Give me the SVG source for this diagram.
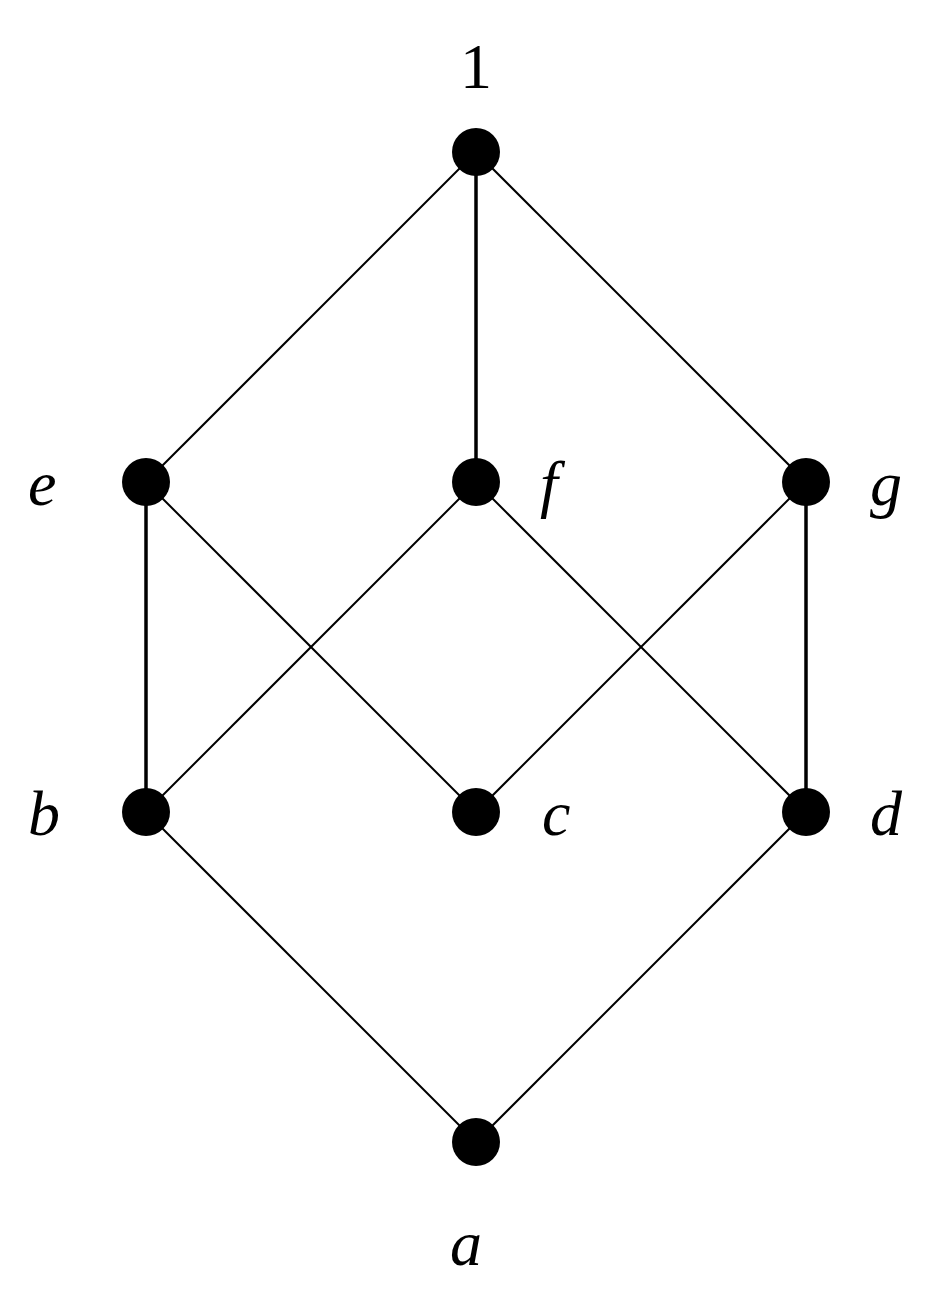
<svg xmlns="http://www.w3.org/2000/svg" width="952" height="1292" viewBox="0 0 952 1292">
<style>
.e{stroke:#000;stroke-width:2;fill:none}
.v{stroke:#000;stroke-width:3.5;fill:none}
.n{fill:#000}
.t{font-family:"Liberation Serif",serif;font-style:italic;font-size:64px;fill:#000}
</style>
<rect width="952" height="1292" fill="#fff"/>
<g id="connectors">
<line class="e" x1="476" y1="152" x2="146" y2="482"/>
<line class="v" x1="476" y1="152" x2="476" y2="482"/>
<line class="e" x1="476" y1="152" x2="806" y2="482"/>
<line class="v" x1="146" y1="482" x2="146" y2="812"/>
<line class="e" x1="146" y1="482" x2="476" y2="812"/>
<line class="e" x1="476" y1="482" x2="146" y2="812"/>
<line class="e" x1="476" y1="482" x2="806" y2="812"/>
<line class="e" x1="806" y1="482" x2="476" y2="812"/>
<line class="v" x1="806" y1="482" x2="806" y2="812"/>
<line class="e" x1="146" y1="812" x2="476" y2="1142"/>
<line class="e" x1="806" y1="812" x2="476" y2="1142"/>
</g>
<g id="n1"><circle class="n" cx="476" cy="152" r="24"/><text x="476" y="88" text-anchor="middle" style="font-family:'Liberation Serif',serif;font-size:64px">1</text></g>
<g id="ne"><circle class="n" cx="146" cy="482" r="24"/><text class="t" x="28" y="505">e</text></g>
<g id="nf"><circle class="n" cx="476" cy="482" r="24"/><text class="t" x="540" y="505">f</text></g>
<g id="ng"><circle class="n" cx="806" cy="482" r="24"/><text class="t" x="870" y="505">g</text></g>
<g id="nb"><circle class="n" cx="146" cy="812" r="24"/><text class="t" x="28" y="835">b</text></g>
<g id="nc"><circle class="n" cx="476" cy="812" r="24"/><text class="t" x="542" y="835">c</text></g>
<g id="nd"><circle class="n" cx="806" cy="812" r="24"/><text class="t" x="870" y="835">d</text></g>
<g id="na"><circle class="n" cx="476" cy="1142" r="24"/><text class="t" x="450" y="1265">a</text></g>
</svg>
